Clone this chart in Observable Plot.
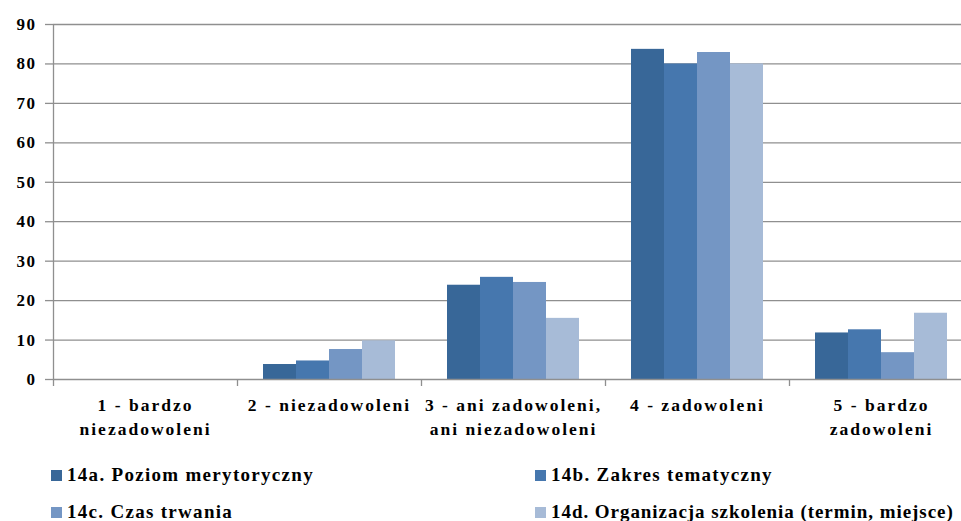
<!DOCTYPE html>
<html>
<head>
<meta charset="utf-8">
<script src="https://cdn.jsdelivr.net/npm/d3@7"></script>
<script src="https://cdn.jsdelivr.net/npm/@observablehq/plot@0.6"></script>
<style>
  html, body { margin: 0; padding: 0; background: #fff; overflow: hidden; }
  #chart { position: relative; width: 961px; height: 521px; overflow: hidden; }
  #chart svg { position: absolute; left: 0; top: 0; max-width: none !important; }
  #chart svg text { letter-spacing: 1.5px; }
  #chart svg g.fxaxis text { letter-spacing: 2px; }
  .lg-item { position: absolute; display: flex; align-items: center; white-space: nowrap;
    font-family: 'Liberation Serif', 'Times New Roman', serif; font-weight: bold; font-size: 19px;
    letter-spacing: 1.3px; color: #000; height: 22px; }
  .lg-item.tight { letter-spacing: 0.95px; }
  .lg-sw { width: 11px; height: 11px; margin-right: 5px; flex: none; }
</style>
</head>
<body>
<div id="chart"></div>
<script>
const categories = [
  "1 - bardzo\nniezadowoleni",
  "2 - niezadowoleni",
  "3 - ani zadowoleni,\nani niezadowoleni",
  "4 - zadowoleni",
  "5 - bardzo\nzadowoleni"
];
const seriesNames = [
  "14a. Poziom merytoryczny",
  "14b. Zakres tematyczny",
  "14c. Czas trwania",
  "14d. Organizacja szkolenia (termin, miejsce)"
];
const seriesColors = ["#386798", "#4677ae", "#7496c4", "#a7bbd7"];
const s14a = [0, 3.8, 23.9, 83.7, 11.8];
const s14b = [0, 4.7, 25.9, 80.0, 12.6];
const s14c = [0, 7.6, 24.6, 82.9, 6.8];
const s14d = [0, 9.8, 15.5, 80.0, 16.8];
const yTicks = [0, 10, 20, 30, 40, 50, 60, 70, 80, 90];

const seriesValues = [s14a, s14b, s14c, s14d];
const rows = [];
categories.forEach((c, i) => {
  seriesNames.forEach((s, j) => rows.push({category: c, series: s, value: seriesValues[j][i]}));
});

const font = "'Liberation Serif', 'Times New Roman', serif";
const gridColor = "#8f8f8f";

const plot = Plot.plot({
  width: 974,
  height: 450,
  marginLeft: 51,
  marginRight: 0,
  marginTop: 24,
  marginBottom: 71,
  style: {fontFamily: font, fontWeight: "bold", fontSize: "17px", color: "#000", background: "transparent"},
  fx: {domain: categories, padding: 0, label: null},
  x: {domain: seriesNames, paddingInner: 0, paddingOuter: 0.77, axis: null},
  y: {domain: [0, 90], label: null},
  color: {domain: seriesNames, range: seriesColors},
  marks: [
    Plot.gridY(yTicks.slice(1), {stroke: gridColor, strokeOpacity: 1, strokeWidth: 1.3}),
    Plot.barY(rows, {fx: "category", x: "series", y: "value", fill: "series"}),
    Plot.ruleY([0], {stroke: gridColor, strokeWidth: 1.3}),
    Plot.ruleY(categories, {
      fx: d => d, y: () => 0, stroke: gridColor,
      render: (index, scales, values, dims) => {
        const g = d3.create("svg:g");
        const y0 = scales.y(0);
        const first = index.some(i => i === 0);
        g.append("line")
          .attr("x1", dims.marginLeft + 0.5).attr("x2", dims.marginLeft + 0.5)
          .attr("y1", first ? scales.y(90) : y0).attr("y2", y0 + 7)
          .attr("stroke", gridColor).attr("stroke-width", 1.3);
        return g.node();
      }
    }),
    Plot.axisY(yTicks, {tickSize: 8, tickPadding: 9, stroke: gridColor, strokeWidth: 1.3, fontSize: 17, fill: "#000"}),
    Plot.axisFx({anchor: "bottom", tickSize: 0, tickPadding: 14, lineHeight: 1.39, label: null, fontSize: 17.5, fill: "#000", className: "fxaxis"})
  ]
});

const chart = document.getElementById("chart");
chart.appendChild(plot);

const legendPos = [[51, 464], [535, 464], [51, 501], [535, 501]];
seriesNames.forEach((name, i) => {
  const item = document.createElement("div");
  item.className = "lg-item" + (i === 3 ? " tight" : "");
  item.style.left = legendPos[i][0] + "px";
  item.style.top = legendPos[i][1] + "px";
  const sw = document.createElement("span");
  sw.className = "lg-sw";
  sw.style.background = seriesColors[i];
  const tx = document.createElement("span");
  tx.textContent = name;
  item.appendChild(sw);
  item.appendChild(tx);
  chart.appendChild(item);
});
</script>
</body>
</html>
